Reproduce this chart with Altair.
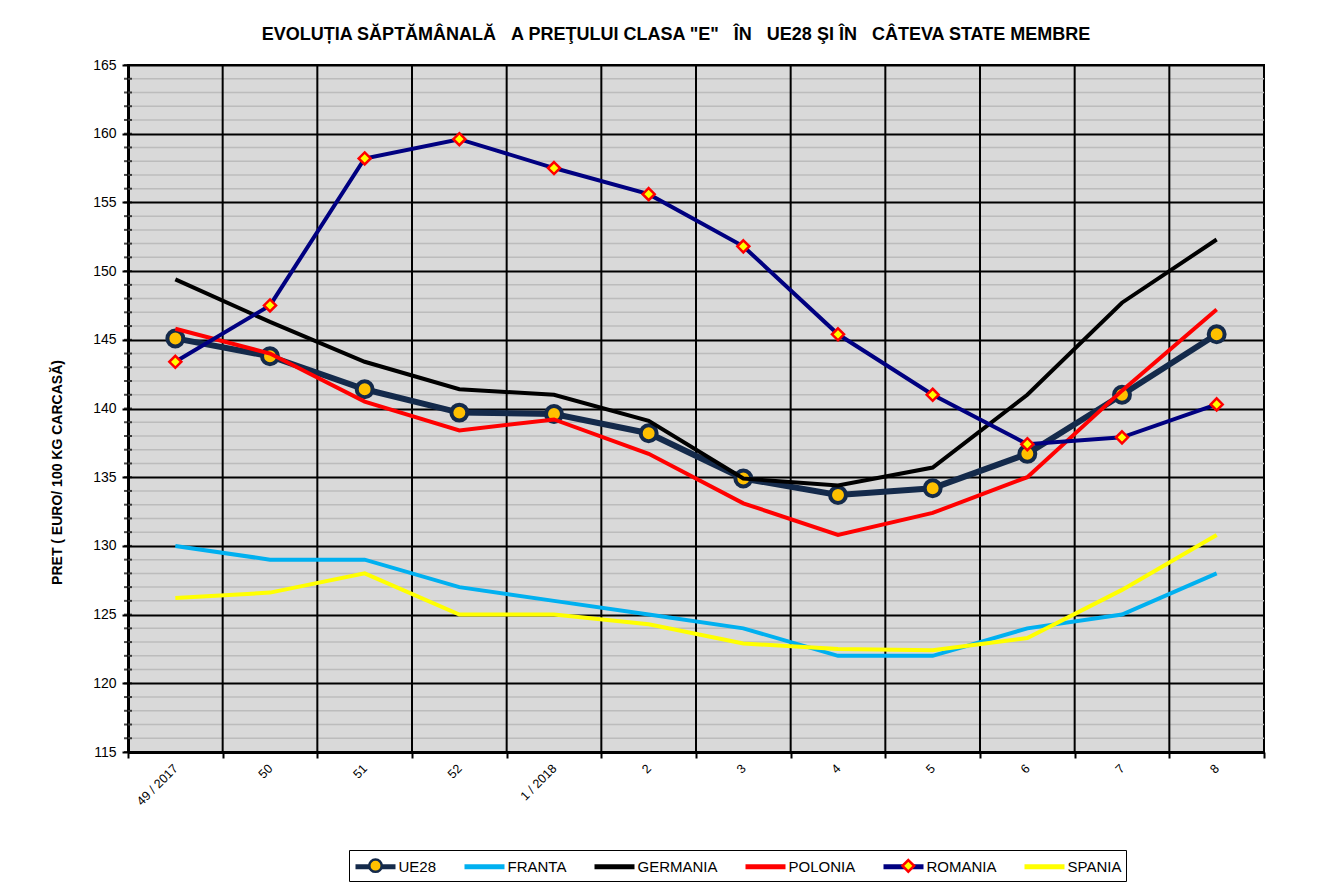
import altair as alt
import pandas as pd

# ---------------- data ----------------
weeks = ["49 / 2017", "50", "51", "52", "1 / 2018", "2", "3", "4", "5", "6", "7", "8"]
series_names = ["UE28", "FRANTA", "GERMANIA", "POLONIA", "ROMANIA", "SPANIA"]

ue28 = [145.1, 143.8, 141.4, 139.7, 139.6, 138.2, 134.9, 133.7, 134.2, 136.7, 141.0, 145.4]
franta = [130.0, 129.0, 129.0, 127.0, 126.0, 125.0, 124.0, 122.0, 122.0, 124.0, 125.0, 128.0]
germania = [149.4, 146.3, 143.4, 141.4, 141.0, 139.1, 134.9, 134.4, 135.7, 141.0, 147.7, 152.3]
polonia = [145.8, 144.0, 140.5, 138.4, 139.2, 136.7, 133.1, 130.8, 132.4, 135.0, 141.3, 147.2]
romania = [143.4, 147.5, 158.2, 159.6, 157.5, 155.6, 151.8, 145.4, 141.0, 137.4, 137.9, 140.3]
spania = [126.2, 126.6, 128.0, 125.0, 125.0, 124.3, 122.9, 122.5, 122.4, 123.3, 126.8, 130.8]

y_major_ticks = [115, 120, 125, 130, 135, 140, 145, 150, 155, 160, 165]
y_minor_ticks = list(range(115, 166))
minor_grid = [v for v in y_minor_ticks if v % 5 != 0]

title_text = ("EVOLUȚIA SĂPTĂMÂNALĂ \u00a0\u00a0A PREŢULUI CLASA \"E\" \u00a0\u00a0ÎN "
              "\u00a0\u00a0UE28 ŞI ÎN \u00a0\u00a0CÂTEVA STATE MEMBRE")
y_title = "PRET ( EURO/ 100 KG CARCASĂ)"

# ---------------- styles ----------------
FONT = "Liberation Sans"
line_colors = ["#142a4b", "#00b0f0", "#000000", "#ff0000", "#000080", "#ffff00"]
line_widths = [6, 4, 4, 4, 4, 4]
marker_fill = ["#ffc000", "transparent", "transparent", "transparent", "#ffff00", "transparent"]
marker_stroke = ["#142a4b", "transparent", "transparent", "transparent", "#ff0000", "transparent"]
EXTENT = "M-2.12,0M2.12,0"
CIRCLE = "M0.62,0A0.62,0.62,0,1,1,-0.62,0A0.62,0.62,0,1,1,0.62,0Z" + EXTENT
DIAMOND = "M0,-0.58L0.58,0L0,0.58L-0.58,0Z" + EXTENT
NONE = EXTENT
marker_shape = [CIRCLE, NONE, NONE, NONE, DIAMOND, NONE]
LEG_LINE = "M-2,0H2"
SUFFIX = "_m"  # keeps the marker legend's domain distinct from the line legend's
marker_domain = [s + SUFFIX for s in series_names]

values = {"UE28": ue28, "FRANTA": franta, "GERMANIA": germania,
          "POLONIA": polonia, "ROMANIA": romania, "SPANIA": spania}
rows = []
for s in series_names:
    for w, v in zip(weeks, values[s]):
        rows.append({"week": w, "series": s, "series2": s + SUFFIX, "value": v})
df = pd.DataFrame(rows)

xscale = alt.Scale(type="band", domain=weeks, paddingInner=0, paddingOuter=0)
yscale = alt.Scale(domain=[115, 165], nice=False, zero=False)

common_leg = dict(
    title=None, orient="none", legendX=221, legendY=785, direction="horizontal",
    symbolSize=400, labelFont=FONT, labelFontSize=15, padding=4,
)
legend_lines = alt.Legend(symbolType=LEG_LINE, symbolStrokeWidth=5, symbolOffset=10,
                          labelOffset=10.5, labelColor="black", strokeColor="black",
                          columnPadding=17, **common_leg)
legend_marks = alt.Legend(symbolStrokeWidth=2.5, symbolOffset=11, labelOffset=11.5,
                          labelOpacity=0, labelExpr="replace(datum.label, '_m', '')",
                          columnPadding=22.2, **common_leg)

color_enc = alt.Color("series:N", scale=alt.Scale(domain=series_names, range=line_colors),
                      legend=legend_lines)

x_axis = alt.Axis(
    title=None, tickBand="extent", grid=False,
    domainColor="black", domainWidth=3, tickColor="black", tickWidth=2, tickSize=6,
    labelAngle=315, labelAlign="right", labelBaseline="middle",
    labelFont=FONT, labelFontSize=12.5, labelColor="black", labelPadding=8,
)
y_axis = alt.Axis(
    title=y_title, values=y_major_ticks, grid=True, gridColor="black", gridWidth=2,
    domainColor="black", domainWidth=3, tickColor="black", tickWidth=2, tickSize=6,
    labelFont=FONT, labelFontSize=14, labelColor="black", labelPadding=6,
    titleFont=FONT, titleFontSize=14, titleFontWeight="bold", titleColor="black",
    titleAngle=270, titleAlign="center", titleBaseline="middle", titleX=-71, titleY=407,
)

x_enc = alt.X("week:N", sort=weeks, scale=xscale, axis=x_axis)
y_enc = alt.Y("value:Q", scale=yscale, axis=y_axis)

minor = alt.Chart(pd.DataFrame({"value": minor_grid})).mark_rule(
    color="#bcbcbc", strokeWidth=1.5
).encode(y=y_enc)

vlines = alt.Chart(pd.DataFrame({"week": weeks[1:]})).mark_rule(
    color="black", strokeWidth=2
).encode(x=alt.X("week:N", bandPosition=0, sort=weeks, scale=xscale, axis=x_axis))

layers = [minor, vlines]
base = alt.Chart(df)
for s, w in zip(series_names, line_widths):
    ln = base.transform_filter(alt.datum.series == s).mark_line(strokeWidth=w).encode(
        x=x_enc, y=y_enc, color=color_enc,
    )
    layers.append(ln)
    if s in ("UE28", "ROMANIA"):
        size = 660 if s == "UE28" else 430
        sw = 4 if s == "UE28" else 2.5
        pt = base.transform_filter(alt.datum.series == s).mark_point(
            size=size, strokeWidth=sw, opacity=1, filled=False
        ).encode(
            x=x_enc, y=y_enc,
            fill=alt.Fill("series2:N", scale=alt.Scale(domain=marker_domain, range=marker_fill),
                          legend=legend_marks),
            stroke=alt.Stroke("series2:N", scale=alt.Scale(domain=marker_domain, range=marker_stroke),
                              legend=legend_marks),
            shape=alt.Shape("series2:N", scale=alt.Scale(domain=marker_domain, range=marker_shape),
                            legend=legend_marks),
        )
        layers.append(pt)

ticks = alt.Chart(pd.DataFrame({"value": y_minor_ticks})).mark_tick(
    color="black", thickness=2, size=8, orient="horizontal"
).encode(y=y_enc, x=alt.value(0))
layers.append(ticks)

chart = alt.layer(*layers).properties(
    width=1136, height=687,
    title=alt.TitleParams(title_text, font=FONT, fontSize=18, fontWeight="bold",
                          color="black", anchor="middle", frame="group", dx=-20, offset=14),
    autosize=alt.AutoSizeParams(type="none"),
    padding={"left": 120, "top": 57, "right": 40, "bottom": 136},
).configure_view(
    fill="#d9d9d9", stroke="black", strokeWidth=2
)

chart.save("out.html", embed_options={"renderer": "svg", "actions": False})
